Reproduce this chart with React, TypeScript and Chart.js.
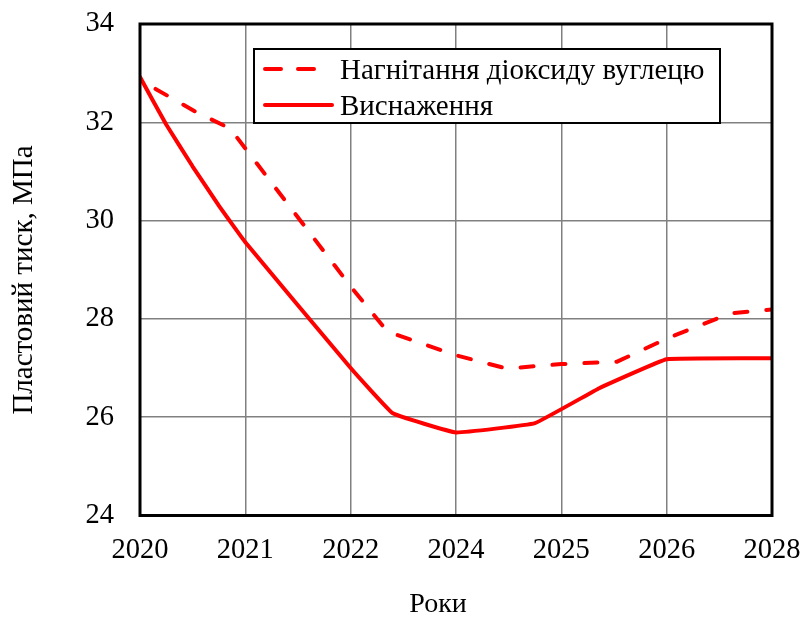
import React, { useEffect, useRef } from 'react';
import { Chart, registerables } from 'chart.js';

Chart.register(...registerables);

// ---- data ----
const xTickLabels = ['2020', '2021', '2022', '2024', '2025', '2026', '2028'];
const injectionX = [0, 0.13, 0.54, 0.83, 0.9, 2, 2.35, 3, 3.48, 4, 4.53, 5, 5.6, 6];
const injectionY = [32.9, 32.7, 32.2, 31.9, 31.75, 28.66, 27.74, 27.26, 26.99, 27.08, 27.13, 27.6, 28.11, 28.19];
const depletionX = [0, 0.25, 0.5, 0.75, 1, 2, 2.4, 3, 3.75, 4.36, 5, 6];
const depletionY = [32.92, 31.95, 31.1, 30.3, 29.56, 27.0, 26.08, 25.69, 25.88, 26.59, 27.18, 27.2];
const seriesNames = ['Нагнітання діоксиду вуглецю', 'Виснаження'];
const yAxisTitle = 'Пластовий тиск, МПа';
const xAxisTitle = 'Роки';
const yMin = 24;
const yMax = 34;
const yStep = 2;

const FONT = "'Liberation Serif', 'Times New Roman', serif";
const RED = '#ff0000';
const DASH = [13, 19];

const toPoints = (xs: number[], ys: number[]) => xs.map((x, i) => ({ x, y: ys[i] }));

const decorPlugin = {
  id: 'decor',
  afterDraw(chart: any) {
    const { ctx, chartArea: a } = chart;
    ctx.save();
    // frame
    ctx.strokeStyle = '#000';
    ctx.lineWidth = 3;
    ctx.strokeRect(a.left, a.top, a.right - a.left, a.bottom - a.top);

    // legend box
    const lx = a.left + 114;
    const ly = a.top + 25;
    const lw = 466;
    const lh = 74;
    ctx.fillStyle = '#fff';
    ctx.fillRect(lx, ly, lw, lh);
    ctx.lineWidth = 2;
    ctx.strokeStyle = '#000';
    ctx.strokeRect(lx, ly, lw, lh);

    const rows = [ly + 20, ly + 56];
    const ds = chart.data.datasets;
    ctx.lineCap = 'round';
    ctx.lineWidth = 4;
    ctx.strokeStyle = RED;
    ctx.setLineDash([16, 17]);
    ctx.beginPath();
    ctx.moveTo(lx + 11, rows[0]);
    ctx.lineTo(lx + 62, rows[0]);
    ctx.stroke();
    ctx.setLineDash([]);
    ctx.beginPath();
    ctx.moveTo(lx + 11, rows[1]);
    ctx.lineTo(lx + 78, rows[1]);
    ctx.stroke();

    ctx.fillStyle = '#000';
    ctx.font = `29px ${FONT}`;
    ctx.textBaseline = 'alphabetic';
    ctx.textAlign = 'left';
    ctx.fillText(ds[0].label, lx + 86, ly + 30);
    ctx.fillText(ds[1].label, lx + 86, ly + 66);

    // axis titles
    ctx.textBaseline = 'middle';
    ctx.font = `29px ${FONT}`;
    ctx.textAlign = 'center';
    ctx.save();
    ctx.translate(24, 280);
    ctx.rotate(-Math.PI / 2);
    ctx.fillText(yAxisTitle, 0, 0);
    ctx.restore();
    ctx.font = `28px ${FONT}`;
    ctx.fillText(xAxisTitle, 438, 605);
    ctx.restore();
  },
};

export default function App() {
  const ref = useRef<HTMLCanvasElement>(null);

  useEffect(() => {
    document.body.style.margin = '0';
    const canvas = ref.current;
    if (!canvas) return;
    const chart = new Chart(canvas, {
      type: 'line',
      data: {
        datasets: [
          {
            label: seriesNames[0],
            data: toPoints(injectionX, injectionY),
            borderColor: RED,
            borderWidth: 4,
            borderDash: DASH,
            borderDashOffset: 13,
            borderCapStyle: 'round',
            borderJoinStyle: 'round',
            pointRadius: 0,
            tension: 0,
            fill: false,
          },
          {
            label: seriesNames[1],
            data: toPoints(depletionX, depletionY),
            borderColor: RED,
            borderWidth: 4,
            borderCapStyle: 'round',
            borderJoinStyle: 'round',
            pointRadius: 0,
            tension: 0.08,
            fill: false,
          },
        ],
      },
      options: {
        animation: false,
        responsive: false,
        maintainAspectRatio: false,
        layout: { padding: { left: 0, right: 31, top: 24, bottom: 0 } },
        plugins: { legend: { display: false }, tooltip: { enabled: false } },
        scales: {
          x: {
            type: 'linear',
            min: 0,
            max: xTickLabels.length - 1,
            ticks: {
              stepSize: 1,
              autoSkip: false,
              maxRotation: 0,
              padding: 18,
              color: '#000',
              font: { family: FONT, size: 28.5 },
              callback: (v: any) => xTickLabels[Math.round(Number(v))] ?? '',
            },
            grid: { color: '#808080', lineWidth: 1.5, drawTicks: false },
            border: { display: false },
            afterFit: (s: any) => {
              s.height = 101.5;
              s.paddingLeft = 0;
              s.paddingRight = 0;
            },
          },
          y: {
            min: yMin,
            max: yMax,
            ticks: {
              stepSize: yStep,
              padding: 26,
              color: '#000',
              font: { family: FONT, size: 28.5 },
            },
            grid: { color: '#808080', lineWidth: 1.5, drawTicks: false },
            border: { display: false },
            afterFit: (s: any) => {
              s.width = 140;
              s.paddingTop = 0;
              s.paddingBottom = 0;
            },
          },
        },
      },
      plugins: [decorPlugin],
    });
    return () => chart.destroy();
  }, []);

  return (
    <div style={{ position: 'absolute', left: 0, top: 0, width: 803, height: 617, background: '#fff' }}>
      <canvas ref={ref} width={803} height={617} style={{ display: 'block' }} />
    </div>
  );
}
